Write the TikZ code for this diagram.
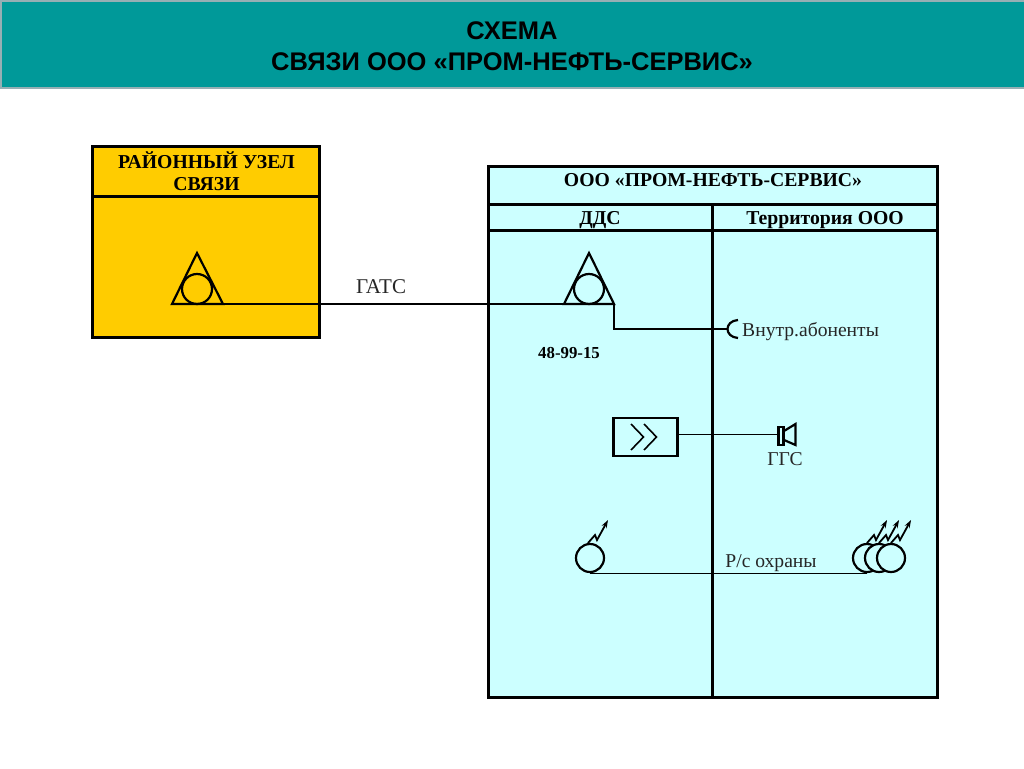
\documentclass[tikz,border=0pt]{standalone}
\usepackage{fontspec}
\setmainfont{Liberation Serif}
\newfontfamily\hdfont{Liberation Sans}
\definecolor{teal1}{RGB}{0,153,153}
\definecolor{edge1}{RGB}{150,175,180}
\definecolor{gold1}{RGB}{255,204,0}
\definecolor{cyan1}{RGB}{204,255,255}
\usetikzlibrary{arrows.meta}
\tikzset{
  panel/.style={draw=black,line width=3pt,line join=miter},
  rule/.style={draw=black,line width=3pt},
  wire/.style={draw=black,line width=2pt},
  thinwire/.style={draw=black,line width=1pt},
  sym/.style={draw=black,line width=2.2pt},
  chev/.style={draw=black,line width=1.6pt},
  lbl/.style={inner sep=0pt,anchor=center,text=black!85,font=\fontsize{19.6}{22}\selectfont},
  blbl/.style={inner sep=0pt,anchor=center,align=center,font=\fontsize{19.7}{22}\selectfont\bfseries},
  ring/.style={circle,draw=black,line width=2.2pt,minimum size=28pt,inner sep=0pt},
  ringfill/.style={ring,fill=cyan1},
  tring/.style={circle,draw=black,line width=2.2pt,minimum size=30pt,inner sep=0pt},
  bolt/.style={draw=black,line width=1.8pt,line join=miter,-{Stealth[length=8pt,width=5.5pt]}},
}
\begin{document}
\begin{tikzpicture}[x=1pt,y=-1pt]
\useasboundingbox (0,0) rectangle (1024,768);
\fill[white] (0,0) rectangle (1024,768);
% header
\node[draw=edge1,line width=2pt,fill=teal1,minimum width=1024pt,minimum height=87pt,inner sep=0pt,anchor=north west] (hdr) at (0,0) {};
\node[inner sep=0pt,align=center,font=\hdfont\fontsize{25.5}{31}\selectfont\bfseries] (title) at (512,46) {СХЕМА\\СВЯЗИ ООО «ПРОМ-НЕФТЬ-СЕРВИС»};
% left panel
\draw[panel,fill=gold1] (92.5,146.5) rectangle (319.5,337.5);
\draw[rule] (92.5,196.5) -- (319.5,196.5);
\node[blbl] (rayon) at (206.5,171) {РАЙОННЫЙ УЗЕЛ\\СВЯЗИ};
% right panel
\draw[panel,fill=cyan1] (488,166) rectangle (937.5,697);
\draw[rule] (488,204) -- (937.5,204);
\draw[rule] (488,230) -- (937.5,230);
\draw[rule] (712.7,204) -- (712.7,697);
\node[blbl] (ooo) at (713,180) {ООО «ПРОМ-НЕФТЬ-СЕРВИС»};
\node[blbl] (dds) at (600,220) {ДДС};
\node[blbl] (terr) at (825,220) {Территория ООО};
% triangle symbols
\coordinate (tA) at (197,253);
\coordinate (lA) at (172,304);
\coordinate (rA) at (223,304);
\draw[sym,line join=miter] (tA) -- (lA) -- (rA) -- cycle;
\node[tring] (cA) at (197,289) {};
\coordinate (tB) at (589,253);
\coordinate (lB) at (564,304);
\coordinate (rB) at (614,304);
\draw[sym,line join=miter] (tB) -- (lB) -- (rB) -- cycle;
\node[tring] (cB) at (589,289) {};
% GATS line
\draw[wire] (rA) -- (lB);
\node[lbl,font=\fontsize{21}{22}\selectfont] (gats) at (381,287) {ГАТС};
\node[inner sep=0pt,font=\fontsize{16.8}{18}\selectfont\bfseries] (num) at (569,353) {48-99-15};
% internal subscribers
\coordinate (jk) at (728,329);
\draw[wire,line join=miter] (rB) -- (614,329) -- (jk);
\draw[sym] (738,320) .. controls (724,321) and (724,337) .. (738,338);
\node[lbl,anchor=west] (vnutr) at (742,332) {Внутр.абоненты};
% amplifier
\node[draw=black,line width=2.1pt,minimum width=64pt,minimum height=38pt,inner sep=0pt] (amp) at (645.5,437) {};
\draw[chev] (631,424) -- (643.5,437) -- (631,450);
\draw[chev] (644,424) -- (656.5,437) -- (644,450);
% speaker
\node[draw=black,line width=2.2pt,minimum width=5pt,minimum height=18pt,inner sep=0pt] (spk) at (781,436) {};
\draw[sym,line join=miter] (784,431) -- (795.5,424) -- (795.5,445) -- (784,440);
\coordinate (spkin) at (778,434.5);
\draw[thinwire] (amp.east |- spkin) -- (spkin);
\node[lbl] (ggs) at (785,459) {ГГС};
% radio
\node[ring] (rL) at (590,558) {};
\draw[bolt] (588,543) -- (595,535) -- (597,540) -- (608,520);
\node[ring] (r1) at (867,558) {};
\node[ringfill] (r2) at (879,558) {};
\node[ringfill] (r3) at (891,558) {};
\draw[bolt] (867,543) -- (874,535) -- (876,540) -- (887,520);
\draw[bolt] (879,543) -- (886,535) -- (888,540) -- (899,520);
\draw[bolt] (891,543) -- (898,535) -- (900,540) -- (911,520);
\draw[thinwire] (rL.south) -- (r1.south);
\node[lbl] (ohr) at (771,563) {Р/с охраны};
\end{tikzpicture}
\end{document}
